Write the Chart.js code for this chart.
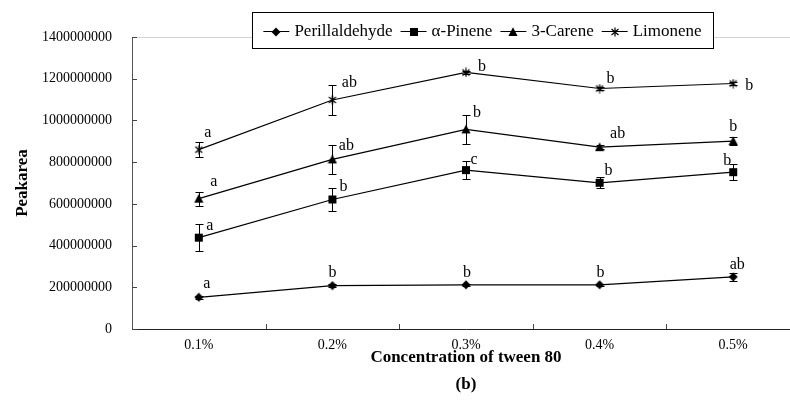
<!DOCTYPE html>
<html>
<head>
<meta charset="utf-8">
<script src="https://cdn.jsdelivr.net/npm/chart.js@4.4.1/dist/chart.umd.min.js"></script>
<style>
  html, body { margin: 0; padding: 0; overflow: hidden; background: #fff; }
  canvas { display: block; }
</style>
</head>
<body>
<canvas id="peakChart" width="810" height="403"></canvas>
<script>
// categories and series (peak area)
const concentrations = ['0.1%', '0.2%', '0.3%', '0.4%', '0.5%'];
const seriesNames = ['Perillaldehyde', 'α-Pinene', '3-Carene', 'Limonene'];

const perillaldehyde = [152000000, 208000000, 212000000, 212000000, 250000000];
const alphaPinene    = [438000000, 621000000, 762000000, 701000000, 752000000];
const carene         = [625000000, 813000000, 957000000, 872000000, 901000000];
const limonene       = [860000000, 1098000000, 1230000000, 1153000000, 1177000000];

// standard deviations (error bars)
const perillaldehydeErr = [6000000, 6000000, 6000000, 6000000, 20000000];
const alphaPineneErr    = [65000000, 57000000, 43000000, 26000000, 39000000];
const careneErr         = [34000000, 68000000, 71000000, 10000000, 18000000];
const limoneneErr       = [35000000, 70000000, 8000000, 8000000, 8000000];

// significance letters
const perillaldehydeSig = ['a', 'b', 'b', 'b', 'ab'];
const alphaPineneSig    = ['a', 'b', 'c', 'b', 'b'];
const careneSig         = ['a', 'ab', 'b', 'ab', 'b'];
const limoneneSig       = ['a', 'ab', 'b', 'b', 'b'];

const yTicks = [0, 200000000, 400000000, 600000000, 800000000, 1000000000, 1200000000, 1400000000];

const FONT = "'Liberation Serif', 'Times New Roman', serif";

// Excel-like markers as small canvases
function makeMarker(kind) {
    const c = document.createElement('canvas');
    c.width = 10; c.height = 10;
    const g = c.getContext('2d');
    g.fillStyle = '#000';
    g.strokeStyle = '#000';
    g.lineWidth = 1.2;
    g.beginPath();
    if (kind === 'diamond') {
        g.moveTo(5, 0.5); g.lineTo(9.5, 5); g.lineTo(5, 9.5); g.lineTo(0.5, 5);
        g.closePath(); g.fill();
    } else if (kind === 'square') {
        g.rect(1, 1, 8, 8); g.fill();
    } else if (kind === 'triangle') {
        g.moveTo(5, 0.3); g.lineTo(9.6, 9); g.lineTo(0.4, 9);
        g.closePath(); g.fill();
    } else {
        g.moveTo(1.5, 2); g.lineTo(8.5, 8);
        g.moveTo(8.5, 2); g.lineTo(1.5, 8);
        g.moveTo(5, 0.5); g.lineTo(5, 9.5);
        g.stroke();
    }
    return c;
}

const markers = [makeMarker('diamond'), makeMarker('square'), makeMarker('triangle'), makeMarker('star')];
const seriesValues = [perillaldehyde, alphaPinene, carene, limonene];
const seriesErrors = [perillaldehydeErr, alphaPineneErr, careneErr, limoneneErr];
const seriesLetters = [perillaldehydeSig, alphaPineneSig, careneSig, limoneneSig];

// where each letter sits relative to its point (px)
const letterOffsets = [
    [[8, -14], [0, -13], [1, -12], [1, -12], [4, -12]],
    [[11, -12], [11, -13], [8, -10], [9, -12], [-6, -11]],
    [[15, -17], [14, -14], [11, -17], [18, -13], [0, -14]],
    [[9, -17], [17, -17], [16, -6], [11, -10], [16, 2]]
];

const errorBarPlugin = {
    id: 'errorBars',
    afterDatasetsDraw(chart) {
        const ctx = chart.ctx;
        const y = chart.scales.y;
        ctx.save();
        ctx.strokeStyle = '#000';
        ctx.lineWidth = 1;
        chart.data.datasets.forEach((ds, i) => {
            const meta = chart.getDatasetMeta(i);
            meta.data.forEach((pt, j) => {
                const v = ds.data[j], e = ds.errors[j];
                const x = Math.round(pt.x) + 0.5;
                const top = Math.round(y.getPixelForValue(v + e)) + 0.5;
                const bot = Math.round(y.getPixelForValue(v - e)) + 0.5;
                ctx.beginPath();
                ctx.moveTo(x, top); ctx.lineTo(x, bot);
                ctx.moveTo(x - 4, top); ctx.lineTo(x + 4, top);
                ctx.moveTo(x - 4, bot); ctx.lineTo(x + 4, bot);
                ctx.stroke();
            });
        });
        ctx.restore();
    }
};

const lettersPlugin = {
    id: 'sigLetters',
    afterDatasetsDraw(chart) {
        const ctx = chart.ctx;
        ctx.save();
        ctx.fillStyle = '#000';
        ctx.font = '16px ' + FONT;
        ctx.textAlign = 'center';
        ctx.textBaseline = 'middle';
        chart.data.datasets.forEach((ds, i) => {
            chart.getDatasetMeta(i).data.forEach((pt, j) => {
                const off = letterOffsets[i][j];
                ctx.fillText(ds.letters[j], pt.x + off[0], pt.y + off[1]);
            });
        });
        ctx.restore();
    }
};

const frameTicksPlugin = {
    id: 'frameTicks',
    beforeDatasetsDraw(chart) {
        const ctx = chart.ctx;
        const area = chart.chartArea;
        const xs = chart.scales.x, ys = chart.scales.y;
        ctx.save();
        // faint top border of plot area
        ctx.strokeStyle = '#d4d4d4';
        ctx.lineWidth = 1;
        ctx.beginPath();
        ctx.moveTo(area.left, area.top + 0.5);
        ctx.lineTo(area.right, area.top + 0.5);
        ctx.stroke();
        // inward tick marks
        ctx.strokeStyle = '#444';
        ctx.beginPath();
        ys.ticks.forEach(t => {
            const py = Math.round(ys.getPixelForValue(t.value)) + 0.5;
            ctx.moveTo(area.left, py);
            ctx.lineTo(area.left + 5, py);
        });
        for (let i = 1; i < concentrations.length; i++) {
            const px = Math.round((xs.getPixelForValue(i - 1) + xs.getPixelForValue(i)) / 2) + 0.5;
            ctx.moveTo(px, area.bottom);
            ctx.lineTo(px, area.bottom - 5);
        }
        ctx.stroke();
        ctx.restore();
    }
};

const boxLegendPlugin = {
    id: 'boxLegend',
    afterDraw(chart) {
        const ctx = chart.ctx;
        const box = { left: 252, top: 12, right: 713, bottom: 48 };
        ctx.save();
        ctx.fillStyle = '#fff';
        ctx.fillRect(box.left, box.top, box.right - box.left, box.bottom - box.top);
        ctx.strokeStyle = '#000';
        ctx.lineWidth = 1;
        ctx.strokeRect(box.left + 0.5, box.top + 0.5, box.right - box.left, box.bottom - box.top);

        ctx.font = '17px ' + FONT;
        ctx.textBaseline = 'middle';
        ctx.textAlign = 'left';
        const sample = 26, gapIn = 5, gapOut = 8;
        const widths = chart.data.datasets.map(ds => ctx.measureText(ds.label).width);
        let total = widths.reduce((a, w) => a + sample + gapIn + w, 0) + gapOut * (widths.length - 1);
        let x = (box.left + box.right) / 2 - total / 2;
        const cy = 31;
        chart.data.datasets.forEach((ds, i) => {
            ctx.strokeStyle = '#000';
            ctx.beginPath();
            ctx.moveTo(x, cy + 0.5);
            ctx.lineTo(x + sample, cy + 0.5);
            ctx.stroke();
            const m = ds.pointStyle;
            ctx.drawImage(m, Math.round(x + sample / 2 - m.width / 2), Math.round(cy - m.height / 2) + 1);
            x += sample + gapIn;
            ctx.fillStyle = '#000';
            ctx.fillText(ds.label, x, cy + 1);
            x += widths[i] + gapOut;
        });
        ctx.restore();
    }
};

new Chart(document.getElementById('peakChart'), {
    type: 'line',
    data: {
        labels: concentrations,
        datasets: seriesNames.map((name, i) => ({
            label: name,
            data: seriesValues[i],
            errors: seriesErrors[i],
            letters: seriesLetters[i],
            borderColor: '#000',
            borderWidth: 1.2,
            backgroundColor: '#000',
            pointStyle: markers[i],
            pointRadius: 5,
            tension: 0,
            fill: false
        }))
    },
    options: {
        responsive: false,
        animation: false,
        devicePixelRatio: 1,
        layout: { padding: { top: 37, right: 10, left: 0, bottom: 0 } },
        plugins: {
            legend: { display: false },
            tooltip: { enabled: false }
        },
        scales: {
            x: {
                offset: true,
                grid: { display: false, drawTicks: false },
                border: { display: true, color: '#222', width: 1 },
                ticks: { color: '#000', padding: 8, font: { family: FONT, size: 14 } },
                title: {
                    display: true,
                    text: ['Concentration of tween 80', '(b)'],
                    color: '#000',
                    font: { family: FONT, size: 17, weight: 'bold', lineHeight: 1.6 },
                    padding: { top: 0, bottom: 5 }
                },
                afterFit(scale) { scale.height = 74; }
            },
            y: {
                min: 0,
                max: 1400000000,
                afterBuildTicks(scale) { scale.ticks = yTicks.map(v => ({ value: v })); },
                grid: { display: false, drawTicks: false },
                border: { display: true, color: '#555', width: 1 },
                ticks: {
                    color: '#000',
                    padding: 20,
                    font: { family: FONT, size: 14 },
                    callback: v => String(v)
                },
                title: {
                    display: true,
                    text: 'Peakarea',
                    color: '#000',
                    font: { family: FONT, size: 17, weight: 'bold', lineHeight: 1.2 },
                    padding: { top: 12, bottom: 0 }
                },
                afterFit(scale) { scale.width = 132; }
            }
        }
    },
    plugins: [frameTicksPlugin, errorBarPlugin, lettersPlugin, boxLegendPlugin]
});
</script>
</body>
</html>
